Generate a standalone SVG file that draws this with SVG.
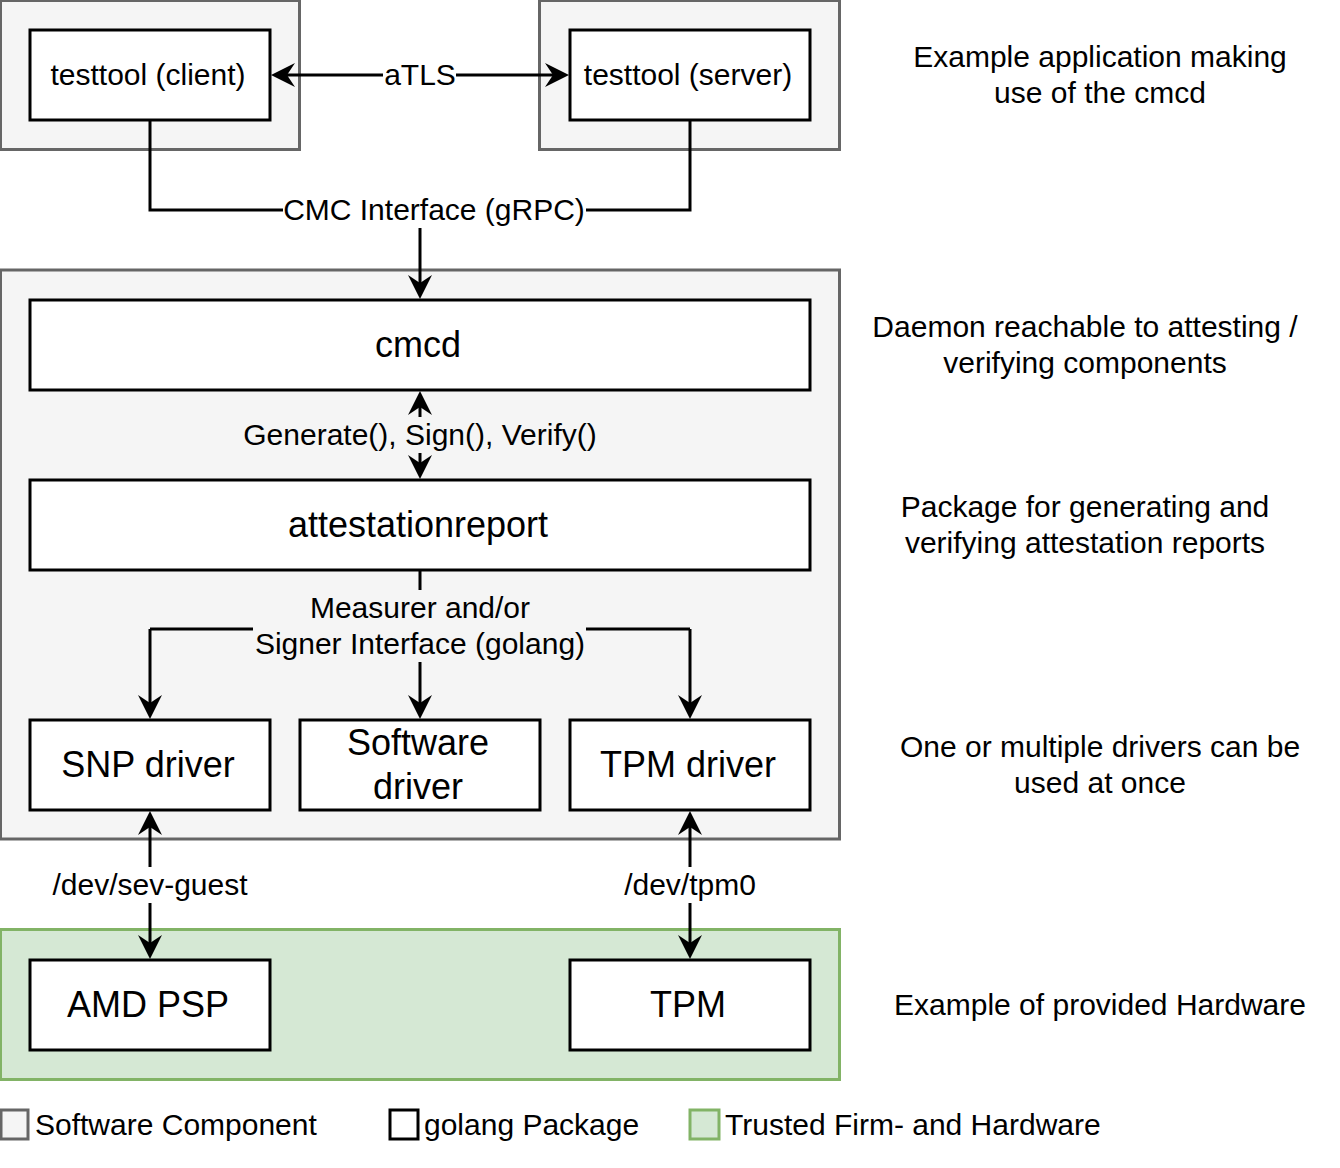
<svg xmlns="http://www.w3.org/2000/svg" width="1340" height="1168" viewBox="0 0 1340 1168">
<style>
text{font-family:"Liberation Sans",Arial,Helvetica,sans-serif;fill:#000;text-anchor:middle}
.t30{font-size:30px}
.t36{font-size:36px}
.lg{font-size:30px;text-anchor:start}
.sw{fill:#f5f5f5;stroke:#666;stroke-width:3}
.pk{fill:#fff;stroke:#000;stroke-width:3}
.hw{fill:#d5e8d4;stroke:#82b366;stroke-width:3}
.ln{fill:none;stroke:#000;stroke-width:3}
.ar{marker-end:url(#ah)}
.ar2{marker-start:url(#ah);marker-end:url(#ah)}
</style>
<defs>
<marker id="ah" markerUnits="userSpaceOnUse" viewBox="0 0 24 24" markerWidth="24" markerHeight="24" refX="8" refY="12" orient="auto-start-reverse">
<path d="M24,12 L0,0 L8,12 L0,24 Z" fill="#000"/>
</marker>
</defs>
<rect width="1340" height="1168" fill="#fff"/>

<g id="containers">
<rect id="app-client-box" class="sw" x="0.5" y="0.5" width="299" height="149"/>
<rect id="app-server-box" class="sw" x="539.5" y="0.5" width="300" height="149"/>
<rect id="cmc-box" class="sw" x="0.5" y="270" width="839" height="569"/>
<rect id="hw-box" class="hw" x="0.5" y="929.5" width="839" height="150"/>
</g>

<g id="connectors">
<path class="ln" d="M150,120 V210 H420 M690,120 V210 H420"/>
<path class="ln ar" d="M420,210 V283"/>
<path class="ln ar2" d="M287,75 H553"/>
<path class="ln ar2" d="M420,407 V463"/>
<path class="ln" d="M420,570 V629 M150,629 H690"/>
<path class="ln ar" d="M150,629 V703"/>
<path class="ln ar" d="M420,629 V703"/>
<path class="ln ar" d="M690,629 V703"/>
<path class="ln ar2" d="M150,827 V943"/>
<path class="ln ar2" d="M690,827 V943"/>
<rect x="383" y="57" width="73" height="36" fill="#fff"/>
<text class="t30" x="420" y="84.5">aTLS</text>
<rect x="283" y="192" width="303" height="36" fill="#fff"/>
<text class="t30" x="434" y="219.5">CMC Interface (gRPC)</text>
<rect x="242" y="417" width="356" height="36" fill="#f5f5f5"/>
<text class="t30" x="420" y="444.5">Generate(), Sign(), Verify()</text>
<rect x="253" y="590" width="333" height="72" fill="#f5f5f5"/>
<text class="t30" x="420" y="617.5">Measurer and/or</text>
<text class="t30" x="420" y="653.5">Signer Interface (golang)</text>
<rect x="50" y="867" width="199" height="36" fill="#fff"/>
<text class="t30" x="150" y="894.5">/dev/sev-guest</text>
<rect x="622" y="867" width="135" height="36" fill="#fff"/>
<text class="t30" x="690" y="894.5">/dev/tpm0</text>
</g>

<g id="testtool-client"><rect class="pk" x="30" y="30" width="240" height="90"/><text class="t30" x="148" y="84.5">testtool (client)</text></g>
<g id="testtool-server"><rect class="pk" x="570" y="30" width="240" height="90"/><text class="t30" x="688" y="84.5">testtool (server)</text></g>
<g id="cmcd"><rect class="pk" x="30" y="300" width="780" height="90"/><text class="t36" x="418" y="356.5">cmcd</text></g>
<g id="attestationreport"><rect class="pk" x="30" y="480" width="780" height="90"/><text class="t36" x="418" y="536.5">attestationreport</text></g>
<g id="snp-driver"><rect class="pk" x="30" y="720" width="240" height="90"/><text class="t36" x="148" y="776.5">SNP driver</text></g>
<g id="software-driver"><rect class="pk" x="300" y="720" width="240" height="90"/><text class="t36" x="418" y="754.5">Software</text><text class="t36" x="418" y="798.5">driver</text></g>
<g id="tpm-driver"><rect class="pk" x="570" y="720" width="240" height="90"/><text class="t36" x="688" y="776.5">TPM driver</text></g>
<g id="amd-psp"><rect class="pk" x="30" y="960" width="240" height="90"/><text class="t36" x="148" y="1016.5">AMD PSP</text></g>
<g id="tpm"><rect class="pk" x="570" y="960" width="240" height="90"/><text class="t36" x="688" y="1016.5">TPM</text></g>

<g id="annotations">
<text class="t30" x="1100" y="66.5">Example application making</text>
<text class="t30" x="1100" y="102.5">use of the cmcd</text>
<text class="t30" x="1085" y="336.5">Daemon reachable to attesting /</text>
<text class="t30" x="1085" y="372.5">verifying components</text>
<text class="t30" x="1085" y="516.5">Package for generating and</text>
<text class="t30" x="1085" y="552.5">verifying attestation reports</text>
<text class="t30" x="1100" y="756.5">One or multiple drivers can be</text>
<text class="t30" x="1100" y="792.5">used at once</text>
<text class="t30" x="1100" y="1014.5">Example of provided Hardware</text>
</g>

<g id="legend">
<rect class="sw" x="1" y="1110" width="27" height="29"/>
<text class="lg" x="35" y="1134.5">Software Component</text>
<rect class="pk" x="390" y="1110" width="28" height="29"/>
<text class="lg" x="424" y="1134.5">golang Package</text>
<rect class="hw" x="690" y="1110" width="29" height="29"/>
<text class="lg" x="725" y="1134.5">Trusted Firm- and Hardware</text>
</g>
</svg>
